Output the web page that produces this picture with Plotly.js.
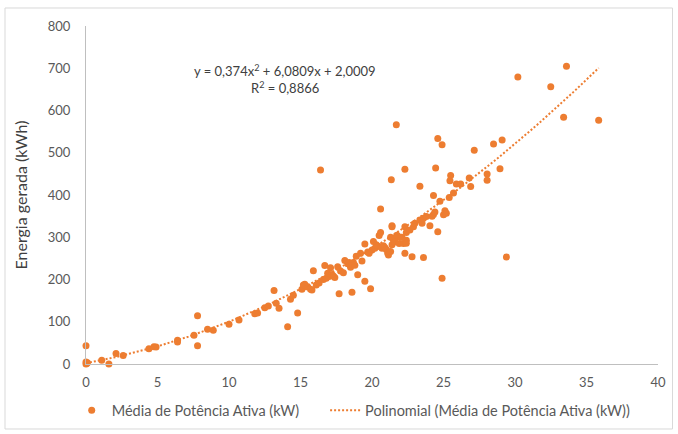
<!DOCTYPE html>
<html>
<head>
<meta charset="utf-8">
<script src="https://cdn.plot.ly/plotly-3.0.1.min.js"></script>
<style>
html,body{margin:0;padding:0;background:#fff;}
#chart{width:678px;height:434px;}
</style>
</head>
<body>
<div id="chart"></div>
<script>
// Média de Potência Ativa (kW) vs Energia gerada (kWh)
const potencia = [0,0.1,0,0.05,0,1.1,1.6,2.1,2.6,4.4,4.75,4.9,6.4,6.4,7.55,7.8,7.8,8.5,8.9,10.0,
  10.7,11.8,12.0,12.5,12.75,13.15,13.3,13.5,14.1,14.3,14.5,14.8,15.1,15.3,15.4,15.2,15.5,15.7,15.8,15.9,
  16.1,16.4,16.6,16.7,16.8,17.0,17.1,17.3,17.4,17.7,17.8,18.0,18.3,18.5,18.6,18.7,18.8,19.0,19.2,19.3,
  19.5,19.5,19.9,20.0,20.2,20.5,20.5,20.6,20.6,20.7,20.8,20.9,21.0,21.1,21.15,21.3,21.4,21.4,21.35,21.4,
  21.5,21.7,21.7,21.3,21.5,21.75,22.0,21.6,21.9,22.1,22.2,22.3,22.3,22.3,22.4,22.4,22.4,22.65,22.8,22.9,
  23.0,23.35,23.35,23.5,23.6,23.6,23.8,24.05,24.2,24.3,24.4,24.3,24.45,24.6,24.6,24.75,24.9,24.9,25.0,25.1,
  25.2,25.4,25.45,25.5,25.7,25.9,26.2,26.8,26.9,27.15,28.05,28.05,28.5,28.95,29.1,29.4,30.2,32.5,33.4,33.6,
  35.85,16.9,17.6,18.1,18.9,19.7,20.3,19.8,20.1,17.2,16.3,18.4];
const energia = [0,3,5,1,43,9,0,25,20,36,41,40,56,52,68,114,43,82,80,94,
  104,119,121,133,137,174,144,132,88,153,163,121,177,189,183,187,183,177,175,221,
  187,459,200,233,203,207,228,208,205,166,220,216,237,229,170,240,234,211,262,244,
  284,196,178,270,274,278,304,311,367,274,280,276,271,262,258,266,282,327,436,325,
  293,301,566,300,297,305,300,289,285,300,285,262,325,461,311,293,286,317,254,325,
  333,341,421,333,345,252,349,327,350,354,360,399,464,313,534,385,519,203,353,363,
  357,394,434,446,405,426,426,440,420,506,450,435,521,462,530,253,679,656,584,705,
  577,215,230,245,255,265,282,262,290,212,192,240];

// Polynomial trendline coefficients shown on the chart: y = a x^2 + b x + c
const trendCoef = [0.374, 6.0809, 2.0009];
const trendRange = [0, 35.85];

const xMin = trendRange[0], xMax = trendRange[1];
const tx = [], ty = [];
const nSteps = 120;
for (let i = 0; i <= nSteps; i++) {
  const x = xMin + (xMax - xMin) * i / nSteps;
  tx.push(x);
  ty.push(trendCoef[0]*x*x + trendCoef[1]*x + trendCoef[2]);
}

const orange = '#ED7D31';
const fontFam = 'Lato, "Liberation Sans", sans-serif';

const traces = [
  {
    type: 'scatter', mode: 'markers', name: 'Média de Potência Ativa (kW)',
    x: potencia, y: energia,
    marker: {color: orange, size: 7, line: {width: 0}},
    cliponaxis: false, legend: 'legend'
  },
  {
    type: 'scatter', mode: 'lines', name: 'Polinomial (Média de Potência Ativa (kW))',
    x: tx, y: ty,
    line: {color: orange, width: 2, dash: '2px,2px'}, legend: 'legend2'
  }
];

const legendFont = {family: fontFam, size: 14.5, color: '#595959'};

const layout = {
  width: 678, height: 434,
  margin: {l: 86, r: 20, t: 26, b: 70, pad: 0, autoexpand: false},
  paper_bgcolor: '#fff', plot_bgcolor: '#fff',
  font: {family: fontFam, size: 13, color: '#595959'},
  showlegend: true,
  legend: {
    orientation: 'h', x: -0.025, xanchor: 'left', y: -0.09, yanchor: 'top',
    font: legendFont, bgcolor: 'rgba(0,0,0,0)'
  },
  legend2: {
    orientation: 'h', x: 0.418, xanchor: 'left', y: -0.09, yanchor: 'top',
    font: legendFont, bgcolor: 'rgba(0,0,0,0)'
  },
  xaxis: {
    range: [0, 40], dtick: 5, tick0: 0, showgrid: false, zeroline: false,
    showline: true, linecolor: '#bfbfbf', linewidth: 1, ticks: '',
    ticklabelstandoff: 6,
    tickfont: {family: fontFam, size: 13, color: '#595959'}
  },
  yaxis: {
    range: [0, 800], dtick: 100, tick0: 0, showgrid: false, zeroline: false,
    showline: true, linecolor: '#bfbfbf', linewidth: 1, ticks: '',
    ticklabelstandoff: 12,
    tickfont: {family: fontFam, size: 13, color: '#595959'},
    title: {text: 'Energia gerada (kWh)', font: {family: fontFam, size: 16, color: '#404040'}, standoff: 16}
  },
  annotations: [
    {xref: 'paper', yref: 'paper', x: 0.348, y: 0.868, xanchor: 'center', yanchor: 'middle', showarrow: false,
     text: 'y = 0,374x<sup>2</sup> + 6,0809x + 2,0009', font: {family: fontFam, size: 13, color: '#404040'}},
    {xref: 'paper', yref: 'paper', x: 0.348, y: 0.818, xanchor: 'center', yanchor: 'middle', showarrow: false,
     text: 'R<sup>2</sup> = 0,8866', font: {family: fontFam, size: 13, color: '#404040'}}
  ],
  shapes: [
    {type: 'rect', xref: 'paper', yref: 'paper', x0: -0.1416, x1: 1.0254, y0: -0.1923, y1: 1.0533,
     line: {color: '#d9d9d9', width: 1}, fillcolor: 'rgba(0,0,0,0)', layer: 'below'}
  ]
};

Plotly.newPlot('chart', traces, layout, {displayModeBar: false, staticPlot: true});
</script>
</body>
</html>
